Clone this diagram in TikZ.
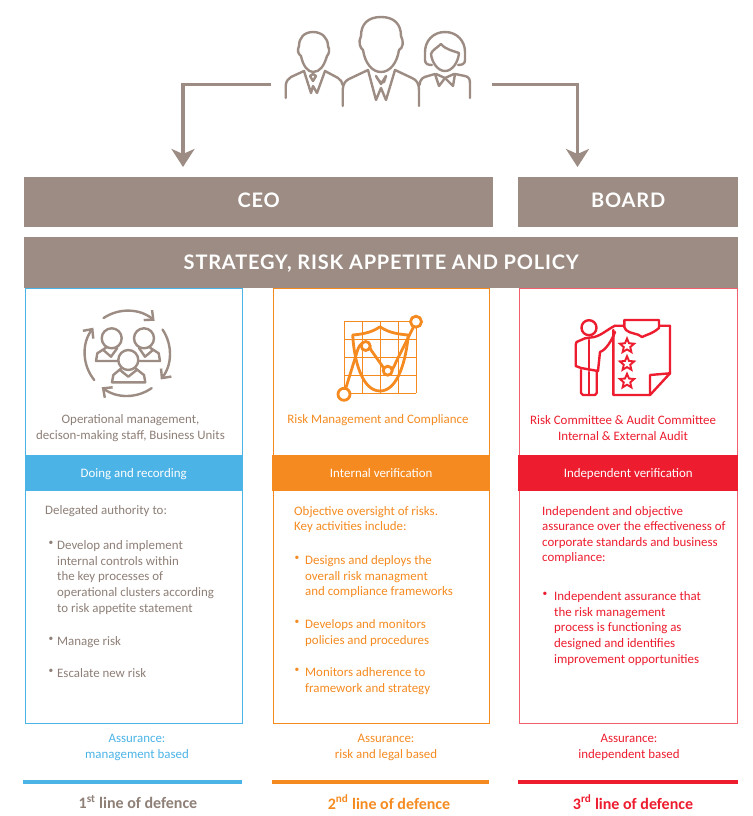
\documentclass[tikz,border=0pt]{standalone}
\usepackage{fontspec}
\setmainfont{Carlito}
\newfontfamily\headfont[LetterSpace=4]{Lato}
\usetikzlibrary{arrows.meta,positioning,shapes.geometric}
\definecolor{greige}{HTML}{9C8C83}
\definecolor{greigetext}{HTML}{8E7F77}
\definecolor{skyline}{HTML}{4BB3E6}
\definecolor{orangeline}{HTML}{F58B20}
\definecolor{redline}{HTML}{ED1C2E}
\newcommand{\bulletmark}{\fontsize{9.5}{15.6}\selectfont\textbullet}
\tikzstyle{headbox} = [fill=greige, text=white, inner sep=0pt, text height=14.3pt, text depth=4pt, font=\fontsize{20}{22}\selectfont\headfont\bfseries]
\tikzstyle{column} = [draw, fill=white, line width=1pt, anchor=north west, inner sep=0pt]
\tikzstyle{band} = [text=white, anchor=north west, inner sep=0pt, minimum height=36pt, text height=9pt, text depth=1pt, font=\fontsize{12.9}{15}\selectfont]
\tikzstyle{body} = [anchor=north west, inner sep=0pt, align=left, font=\fontsize{12.9}{15.6}\selectfont]
\tikzstyle{caption} = [inner sep=0pt, align=center, font=\fontsize{12.9}{16.6}\selectfont]
\tikzstyle{rule} = [anchor=north west, inner sep=0pt, minimum height=4pt]
\tikzstyle{linelabel} = [inner sep=0pt, font=\fontsize{16}{18}\selectfont\bfseries]
\tikzstyle{bigarrow} = [draw=greige, line width=3.2pt, -{Stealth[length=18pt,width=23pt,inset=5pt]}]
\tikzstyle{icon} = [line width=2.4pt, line join=round, line cap=round]
\tikzstyle{starmark} = [draw=redline, star, star points=5, star point ratio=2.2, line width=1.9pt, minimum size=15pt, inner sep=0pt]

\begin{document}
\begin{tikzpicture}[x=1pt, y=-1pt]
    \useasboundingbox (0,0) rectangle (752,816);

    % columns first, the strategy box covers their top edge
    \node [column, draw=skyline, minimum width=217pt, minimum height=435pt] (col1) at (25,288) {};
    \node [column, draw=orangeline, minimum width=216pt, minimum height=435pt] (col2) at (273,288) {};
    \node [column, draw=redline!70, minimum width=218pt, minimum height=435pt] (col3) at (519,288) {};

    % top boxes
    \node [headbox, anchor=north west, minimum width=469pt, minimum height=50pt] (ceo) at (24,177) {CEO};
    \node [headbox, anchor=north west, minimum width=220pt, minimum height=50pt] (board) at (518,177) {BOARD};
    \node [headbox, text depth=0pt, anchor=north west, minimum width=714pt, minimum height=51pt] (strategy) at (24,237) {STRATEGY, RISK APPETITE AND POLICY};

    % arrows from the people
    \coordinate (peopleL) at (271,84.5);
    \coordinate (peopleR) at (492,84.5);
    \coordinate (ceotip) at (183,167);
    \coordinate (boardtip) at (577.5,167);
    \draw [bigarrow] (peopleL) -| (ceotip);
    \draw [bigarrow] (peopleR) -| (boardtip);

    % people
    \begin{scope}[icon, draw=greige]
        \draw (381,17) .. controls (368,17) and (361,24) .. (361,36) .. controls (358,42) and (360,48) .. (363,50)
            .. controls (365,63) and (372,72) .. (381,72) .. controls (390,72) and (397,63) .. (399,50)
            .. controls (403,48) and (404,42) .. (401,36) .. controls (401,24) and (394,17) .. (381,17);
        \draw (342.7,106) -- (342.7,90) .. controls (343,84) and (345,81) .. (349,79) -- (368,70) -- (376,100) -- (381,88) -- (386,100) -- (395,70) -- (412,78) .. controls (417,80) and (419,84) .. (419,90) -- (419,106);
        \draw (376,76) -- (381,84) -- (386,76) -- (384,82) .. controls (381,84) and (378,80) .. (376,76);
        \draw (313,32) .. controls (304,32) and (299,38) .. (299,46) .. controls (297,50) and (298,54) .. (301,56)
            .. controls (303,66) and (308,72) .. (313,72) .. controls (320,72) and (324,66) .. (327,56)
            .. controls (329,54) and (330,50) .. (328,46) .. controls (328,38) and (322,32) .. (313,32);
        \draw (285.7,98) -- (285.7,86) .. controls (286,81) and (288,79) .. (291,77) -- (304,71) -- (311,93) -- (313,86) -- (317,93) -- (325,71) -- (338,78) .. controls (341,80) and (342,82) .. (342.7,85);
        \draw (310,76) -- (313,81) -- (316,76) -- (313,74) -- cycle;
        \draw (445,32) .. controls (433,32) and (425,41) .. (425,52) -- (425,60) .. controls (425,64) and (428,65) .. (432,65);
        \draw (445,32) .. controls (457,32) and (465,41) .. (465,52) -- (465,60) .. controls (465,64) and (462,65) .. (458,65);
        \draw (441,44) .. controls (437,48) and (432,50) .. (431,54) .. controls (432,63) and (438,71) .. (445,71) .. controls (452,71) and (458,63) .. (459,53) .. controls (454,51) and (446,50) .. (441,44);
        \draw (419.5,85) .. controls (420,79) and (423,77) .. (428,76) -- (435,74) -- (439,86) -- (445,78) -- (453,86) -- (455,74) -- (465,76) .. controls (469,77) and (470,79) .. (470,84) -- (470,98);
        \draw (436,74) -- (445,78) -- (454,74);
    \end{scope}

    % cycle icon
    \begin{scope}[icon, draw=greige]
        \coordinate (cyc) at (127.3,353.3);
        \foreach \a/\b in {-124/-50, -34/38, 55/127, 141/217}
            \draw [-{Straight Barb[length=7pt,width=13pt]}] (cyc) ++(\a:42.5) arc (\a:\b:42.5);
        \draw (111.7,338.3) circle (10);
        \draw (144,338.3) circle (10);
        \draw (106,347.7) -- (97.3,353.3) -- (96,361) -- (118.3,361);
        \draw (150,347.7) -- (158.7,353.3) -- (160,361) -- (138,361);
        \draw (103.3,350) -- (111,356.7) -- (117.3,348);
        \draw (153,350) -- (145,356.7) -- (139,348);
        \draw [fill=white] (128.3,360) circle (10);
        \draw (121.7,368) -- (113.3,375) -- (112,382.3) -- (145.3,382.3) -- (144,375) -- (135,368);
        \draw (120,370) -- (128.3,376.7) -- (136.7,370);
    \end{scope}

    % chart and shield icon
    \foreach \p in {0,1,2,3,4} {
        \draw [orangeline, line width=1pt] (344+18*\p,321.7) -- (344+18*\p,393.3);
        \draw [orangeline, line width=1pt] (344,321.7+17.9*\p) -- (416,321.7+17.9*\p);
    }
    \begin{scope}[icon, draw=orangeline, line width=2.8pt]
        \draw (352.7,335) .. controls (366,334) and (374,331) .. (380,326.7) .. controls (386,331) and (394,334) .. (408.3,335)
            .. controls (406,360) and (398,391) .. (380,391) .. controls (362,391) and (354,360) .. (352.7,335);
        \draw (344,394) -- (357,352) .. controls (360,340) and (368,340) .. (371,350) -- (383,367) .. controls (388,376) and (392,372) .. (396,362) -- (416,322);
    \end{scope}
    \foreach \p/\q/\r in {344/394.3/6, 365.7/346/4.5, 387.7/370.7/4.5, 416/321.7/5.5}
        \draw [orangeline, fill=white, line width=2.8pt] (\p,\q) circle (\r);

    % presenter and board icon
    \begin{scope}[icon, draw=redline]
        \draw (589,327.7) circle (7.5);
        \draw (594.3,337) -- (585,338.3) -- (576.5,342) -- (575.7,345) -- (575.7,366) -- (581,368) -- (598,371) -- (600,352) .. controls (606,350) and (612,340) .. (615,332);
        \draw (594.3,337) .. controls (602,335) and (608,329) .. (615,325.7);
        \draw (589,340) -- (589,370);
        \draw (581,370) -- (581,393) -- (583,395) -- (595,395) -- (596.7,393) -- (596.7,371);
        \draw (589,372) -- (589,395);
        \draw (615,325.7) -- (670,325.7) -- (670,373.3) -- (650,395) -- (613.3,395) -- (613.3,330) ;
        \draw (670,373.3) -- (650,375) -- (650,395);
        \draw [fill=white] (624.3,320) -- (659,320) -- (659,328) .. controls (652,334) and (648,334) .. (642,337) .. controls (638,333) and (630,334) .. (626,330) -- (624.3,327) -- cycle;
    \end{scope}
    \node [starmark] (star1) at (627,346) {};
    \node [starmark] (star2) at (627,363.7) {};
    \node [starmark] (star3) at (627,381.3) {};

    % captions under the icons
    \node [caption, text=greigetext] (cap1) at (130.5,428) {Operational management,\\decison-making staff, Business Units};
    \node [caption, text=orangeline] (cap2) at (378,420.5) {Risk Management and Compliance};
    \node [caption, text=redline] (cap3) at (623,428) {Risk Committee \& Audit Committee\\Internal \& External Audit};

    % bands
    \node [band, fill=skyline, minimum width=217pt] (band1) at (25,455) {Doing and recording};
    \node [band, fill=orangeline, minimum width=218pt] (band2) at (272,455) {Internal verification};
    \node [band, fill=redline, minimum width=220pt] (band3) at (518,455) {Independent verification};

    % first column text
    \begin{scope}[text=greigetext]
        \node [body] (a0) at (45,505.5) {Delegated authority to:};
        \node [body, anchor=north] (b1) at (51,540.5) {\bulletmark};
        \node [body] (a1) at (57,540.5) {Develop and implement\\internal controls within\\the key processes of\\operational clusters according\\to risk appetite statement};
        \node [body, anchor=north] (b2) at (51,636.5) {\bulletmark};
        \node [body] (a2) at (57,636.5) {Manage risk};
        \node [body, anchor=north] (b3) at (51,668.5) {\bulletmark};
        \node [body] (a3) at (57,668.5) {Escalate new risk};
    \end{scope}

    % second column text
    \begin{scope}[text=orangeline]
        \node [body] (c0) at (294,506) {Objective oversight of risks.\\Key activities include:};
        \node [body, anchor=north] (d1) at (297,555.5) {\bulletmark};
        \node [body] (c1) at (305,555.5) {Designs and deploys the\\overall risk managment\\and compliance frameworks};
        \node [body, anchor=north] (d2) at (297,619.5) {\bulletmark};
        \node [body] (c2) at (305,619.5) {Develops and monitors\\policies and procedures};
        \node [body, anchor=north] (d3) at (297,667.5) {\bulletmark};
        \node [body] (c3) at (305,667.5) {Monitors adherence to\\framework and strategy};
    \end{scope}

    % third column text
    \begin{scope}[text=redline]
        \node [body] (e0) at (542,506) {Independent and objective\\assurance over the effectiveness of\\corporate standards and business\\compliance:};
        \node [body, anchor=north] (f1) at (545,591.5) {\bulletmark};
        \node [body] (e1) at (554,591.5) {Independent assurance that\\the risk management\\process is functioning as\\designed and identifies\\improvement opportunities};
    \end{scope}

    % assurance
    \node [caption, text=skyline] (as1) at (137,747.5) {Assurance:\\management based};
    \node [caption, text=orangeline] (as2) at (386,747.5) {Assurance:\\risk and legal based};
    \node [caption, text=redline] (as3) at (629,747.5) {Assurance:\\independent based};

    % bottom rules
    \node [rule, fill=skyline, minimum width=219pt] (rule1) at (23,779.5) {};
    \node [rule, fill=orangeline, minimum width=217pt] (rule2) at (272,779.5) {};
    \node [rule, fill=redline, minimum width=220pt] (rule3) at (518,779.5) {};
    \node [linelabel, text=greigetext] (line1) at (138,802) {1\textsuperscript{st} line of defence};
    \node [linelabel, text=orangeline] (line2) at (389,802) {2\textsuperscript{nd} line of defence};
    \node [linelabel, text=redline] (line3) at (633,802) {3\textsuperscript{rd} line of defence};
\end{tikzpicture}
\end{document}
